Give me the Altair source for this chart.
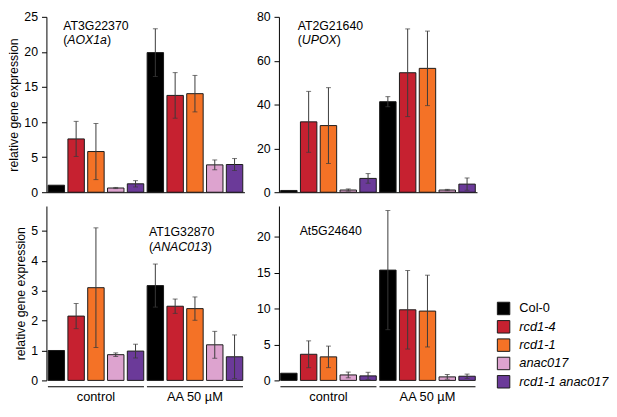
import altair as alt
import pandas as pd

FONT = "Liberation Sans, Arial, Helvetica, sans-serif"

GENOTYPES = ["Col-0", "rcd1-4", "rcd1-1", "anac017", "rcd1-1 anac017"]
COLORS = ["#000000", "#C62130", "#F47226", "#DDA3CF", "#6B3A99"]
GROUPS = ["control", "AA 50 µM"]

# values: 5 genotypes under control, then 5 under AA 50 µM
AOX1A_MEAN = [1.0, 7.6, 5.8, 0.6, 1.2, 19.9, 13.8, 14.05, 3.9, 3.95]
AOX1A_ERR = [0, 2.5, 4.0, 0.08, 0.45, 3.4, 3.25, 2.6, 0.7, 0.85]
UPOX_MEAN = [0.8, 32.1, 30.4, 1.0, 6.3, 41.3, 54.5, 56.5, 1.0, 3.7]
UPOX_ERR = [0, 13.9, 17.3, 0.5, 2.2, 2.3, 20.0, 17.0, 0.3, 2.8]
ANAC013_MEAN = [1.0, 2.15, 3.1, 0.86, 0.98, 3.17, 2.48, 2.4, 1.19, 0.79]
ANAC013_ERR = [0, 0.42, 2.0, 0.06, 0.23, 0.72, 0.24, 0.39, 0.45, 0.73]
AT5G_MEAN = [1.0, 3.64, 3.28, 0.76, 0.63, 15.37, 9.84, 9.66, 0.49, 0.58]
AT5G_ERR = [0, 1.87, 1.5, 0.4, 0.5, 8.3, 5.47, 5.0, 0.33, 0.3]

TICKS_TL = [0, 5, 10, 15, 20, 25]
TICKS_TR = [0, 20, 40, 60, 80]
TICKS_BL = [0, 1, 2, 3, 4, 5]
TICKS_BR = [0, 5, 10, 15, 20]

YTITLE = "relative gene expression"
ECOL = "#3a3a3a"
FS = 12.5

LEGEND = alt.Legend(
    title=None, orient="none", legendX=457, legendY=289, padding=0,
    symbolType="square", symbolSize=160, symbolStrokeColor="#1a1a1a",
    symbolStrokeWidth=1, symbolOpacity=1, labelFontSize=13, labelFont=FONT,
    labelColor="black", rowPadding=0.6, labelOffset=9,
    labelFontStyle={"expr": "datum.label == 'Col-0' ? 'normal' : 'italic'"},
)


def note(txt, x, y, italic=False):
    return alt.Chart(pd.DataFrame({"t": [txt]})).mark_text(
        align="left", baseline="alphabetic", fontSize=FS, font=FONT,
        fontStyle="italic" if italic else "normal", color="black"
    ).encode(x=alt.value(x), y=alt.value(y), text="t:N")


def panel(means, errs, ymax, ticks, bottom, ytitle, notes, height, width=201):
    df = pd.DataFrame({
        "group": [g for g in GROUPS for _ in GENOTYPES],
        "genotype": GENOTYPES * 2,
        "mean": means,
        "err": errs,
    })
    df["lo"] = (df["mean"] - df["err"]).clip(lower=0)
    df["hi"] = df["mean"] + df["err"]
    yscale = alt.Scale(domain=[0, ymax], nice=False, zero=True)
    yaxis = alt.Axis(
        values=ticks, title=ytitle, grid=False, domainColor="black",
        tickColor="black", tickSize=5, labelPadding=4, labelFontSize=FS,
        labelFont=FONT, labelColor="black", titleFont=FONT, titleFontSize=FS,
        titleFontWeight="normal", titleColor="black", titlePadding=3,
    )
    if bottom:
        xaxis = alt.Axis(title=None, domain=False, ticks=False, labelAngle=0,
                         labelFontSize=13, labelPadding=10, labelColor="black",
                         labelFont=FONT)
    else:
        xaxis = alt.Axis(title=None, domain=True, domainColor="black",
                         ticks=False, labels=False)
    x = alt.X("group:N", sort=GROUPS,
              scale=alt.Scale(domain=GROUPS, paddingInner=0, paddingOuter=0),
              axis=xaxis)
    xo = alt.XOffset("genotype:N", sort=GENOTYPES,
                     scale=alt.Scale(domain=GENOTYPES, paddingInner=0.17,
                                     paddingOuter=0.085))
    base = alt.Chart(df)
    bars = base.mark_bar(stroke="#1a1a1a", strokeWidth=1).encode(
        x=x, xOffset=xo,
        y=alt.Y("mean:Q", scale=yscale, axis=yaxis),
        color=alt.Color("genotype:N", sort=GENOTYPES,
                        scale=alt.Scale(domain=GENOTYPES, range=COLORS),
                        legend=LEGEND),
    )
    eb = base.transform_filter("datum.err > 0")
    rule = eb.mark_rule(color=ECOL, strokeWidth=1).encode(
        x=x, xOffset=xo, y=alt.Y("lo:Q", scale=yscale, axis=yaxis), y2="hi:Q")
    cap_hi = eb.mark_tick(color=ECOL, size=5, thickness=1,
                          orient="horizontal").encode(
        x=x, xOffset=xo, y=alt.Y("hi:Q", scale=yscale, axis=yaxis))
    cap_lo = eb.mark_tick(color=ECOL, size=5, thickness=1,
                          orient="horizontal").encode(
        x=x, xOffset=xo, y=alt.Y("lo:Q", scale=yscale, axis=yaxis))
    layers = [bars, rule, cap_hi, cap_lo]
    if bottom:
        gdf = pd.DataFrame({"group": GROUPS})
        uline = alt.Chart(gdf).mark_bar(
            color="black", width=alt.RelativeBandSize(0.97)
        ).encode(x=x, y=alt.value(height + 6), y2=alt.value(height + 7))
        layers.append(uline)
    layers += [note(*n) for n in notes]
    return alt.layer(*layers).properties(width=width, height=height)


TOP_H = 178
BOT_H = 177

tl = panel(AOX1A_MEAN, AOX1A_ERR, 25, TICKS_TL, False, YTITLE,
           [("AT3G22370", 17, 13), ("(", 17, 28), ("AOX1a", 21.2, 28, True),
            (")", 61.5, 28)], TOP_H)
tr = panel(UPOX_MEAN, UPOX_ERR, 80, TICKS_TR, False, None,
           [("AT2G21640", 19, 13), ("(", 19, 28), ("UPOX", 23.2, 28, True),
            (")", 58.6, 28)], TOP_H)
bl = panel(ANAC013_MEAN, ANAC013_ERR, 5.83, TICKS_BL, True, YTITLE,
           [("AT1G32870", 104, 30), ("(", 104, 46), ("ANAC013", 108.2, 46, True),
            (")", 163.8, 46)], BOT_H)
br = panel(AT5G_MEAN, AT5G_ERR, 24.3, TICKS_BR, True, None,
           [("At5G24640", 21, 29)], BOT_H)

chart = alt.concat(tl, tr, bl, br, columns=2,
                   spacing={"row": 7, "column": 12}).properties(
    padding=0, align="each"
).configure_view(stroke=None)

chart.save("out.html", embed_options={"renderer": "svg", "actions": False})
